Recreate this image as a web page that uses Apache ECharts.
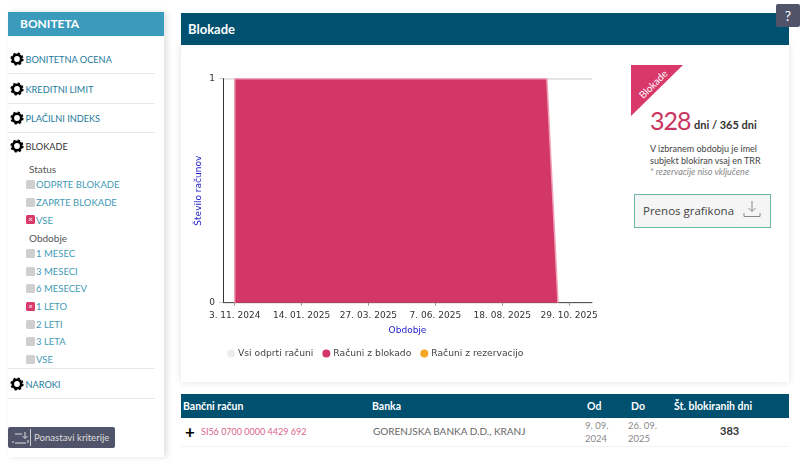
<!DOCTYPE html>
<html>
<head>
<meta charset="utf-8">
<script src="https://cdn.jsdelivr.net/npm/echarts@6/dist/echarts.min.js"></script>
<style>
html, body { margin: 0; padding: 0; width: 800px; height: 467px; overflow: hidden; background: #fff; font-family: Lato, sans-serif; }
.abs { position: absolute; white-space: nowrap; }
#side { position: absolute; left: 8px; top: 12px; width: 156px; height: 445px; box-shadow: 3px 0 6px rgba(0,0,0,.12); }
#sideHead { position: absolute; left: 8px; top: 12px; width: 156px; height: 24px; background: #3a9bbd; color: #fff; font-size: 12px; font-weight: 700; line-height: 24px; text-indent: 12px; }
.rule { position: absolute; left: 8px; width: 147px; height: 1px; background: #e8e8e8; }
.nav { position: absolute; left: 25.5px; font-size: 9.2px; line-height: 12px; white-space: nowrap; }
.sub { position: absolute; left: 29px; font-size: 10px; color: #555; line-height: 12px; }
.opt { position: absolute; left: 36px; font-size: 9.5px; color: #3f9ab5; line-height: 12px; white-space: nowrap; }
.box { position: absolute; left: 26px; width: 9px; height: 9px; border-radius: 1.5px; background: #cfcfcf; color: #fff; font-size: 8px; line-height: 9px; text-align: center; }
.box.on { background: #d8386a; }
#panel { position: absolute; left: 181px; top: 45px; width: 608px; height: 337px; background: #fff; box-shadow: 0 0 7px rgba(0,0,0,.13); }
#mainHead { position: absolute; left: 181px; top: 13px; width: 608px; height: 32px; background: #00506f; color: #fff; font-size: 13px; font-weight: 700; line-height: 32px; text-indent: 7px; }
#main { position: absolute; left: 181px; top: 45px; width: 440px; height: 337px; }
#ribbon { position: absolute; left: 631px; top: 65px; width: 0; height: 0; border-top: 51px solid #d8386a; border-right: 52px solid transparent; }
#tblHead { position: absolute; left: 181px; top: 394px; width: 608px; height: 24px; background: #00506f; }
.th { position: absolute; top: 394px; color: #fff; font-size: 10.5px; font-weight: 700; line-height: 24px; white-space: nowrap; }
</style>
</head>
<body>
<div id="side"></div>
<div id="sideHead">BONITETA</div>
<div id="sideBody"></div>

<div id="panel"></div>
<div id="mainHead">Blokade</div>
<div id="main"></div>

<div class="abs" style="left:776px;top:4px;width:24px;height:23px;background:#50546a;color:#fff;font-size:14px;line-height:23px;text-align:center;border-radius:2px">?</div>

<div id="ribbon"></div>
<div class="abs" style="left:630px;top:78px;width:46px;text-align:center;color:#fff;font-size:10px;transform:rotate(-45deg)">Blokade</div>
<div class="abs" style="left:650px;top:104px;font-size:25px;line-height:32px;letter-spacing:-1px;color:#c9365f">328</div>
<div class="abs" style="left:694px;top:117px;font-size:11px;line-height:15px;font-weight:700;color:#333">dni / 365 dni</div>
<div class="abs" style="left:650px;top:143px;font-size:9px;line-height:12px;color:#444">V izbranem obdobju je imel</div>
<div class="abs" style="left:650px;top:155px;font-size:9px;line-height:12px;color:#444">subjekt blokiran vsaj en TRR</div>
<div class="abs" style="left:650px;top:166px;font-size:9px;line-height:11px;color:#888;font-style:italic">* rezervacije niso vključene</div>
<div class="abs" style="left:634px;top:194px;width:135px;height:32px;border:1px solid #6bb8a8;background:#f5f5f6"></div>
<div class="abs" style="left:643px;top:203px;font-size:11.5px;line-height:16px;color:#444;font-family:'Open Sans',sans-serif">Prenos grafikona</div>
<svg class="abs" style="left:743px;top:200px" width="18" height="18" fill="none" stroke="#888" stroke-width="1"><path d="M9 1V11M5.5 8L9 11.5L12.5 8M1 13V16.5H17V13"/></svg>

<div id="tblHead"></div>
<div id="tbl"></div>

<div class="abs" style="left:8px;top:427px;width:107px;height:21px;background:#50546a;border-radius:2px"></div>
<svg class="abs" style="left:12px;top:431px" width="20" height="14" fill="none" stroke="#ddd" stroke-width="1"><path d="M3 3H10M13 1V7M10.5 5L13 7.5L15.5 5M3 12H14M1 10V12M16 9V12"/></svg>
<div class="abs" style="left:30px;top:429px;width:1px;height:17px;background:#ccc"></div>
<div class="abs" style="left:34px;top:427px;font-size:9.6px;line-height:21px;color:#ddd">Ponastavi kriterije</div>

<script>
// podatki
var dates = ['2024-11-03', '2024-11-03', '2025-10-05', '2025-10-17'];
var blockedValues = [0, 1, 1, 0];
var openValues = [];
var reservedValues = [];
var tickDates = ['2024-11-03', '2025-01-14', '2025-03-27', '2025-06-07', '2025-08-18', '2025-10-29'];
var tickLabels = ['3. 11. 2024', '14. 01. 2025', '27. 03. 2025', '7. 06. 2025', '18. 08. 2025', '29. 10. 2025'];
var seriesNames = ['Vsi odprti računi', 'Računi z blokado', 'Računi z rezervacijo'];

var navMain = [['BONITETNA OCENA', 59], ['KREDITNI LIMIT', 89], ['PLAČILNI INDEKS', 118], ['BLOKADE', 146], ['NAROKI', 384]];
var rules = [73, 103, 132, 368, 398];
var statusOpts = [['ODPRTE BLOKADE', 184, 0], ['ZAPRTE BLOKADE', 202, 0], ['VSE', 219.5, 1]];
var periodOpts = [['1 MESEC', 253, 0], ['3 MESECI', 271, 0], ['6 MESECEV', 288, 0], ['1 LETO', 306, 1], ['2 LETI', 324, 0], ['3 LETA', 341, 0], ['VSE', 359, 0]];
var tableHead = [['Bančni račun', 183], ['Banka', 372], ['Od', 587], ['Do', 631], ['Št. blokiranih dni', 674]];

// levi meni
var gear = function (y) {
	return '<svg class="abs" style="left:10px;top:' + (y - 7) + 'px" width="14" height="14">' +
		'<circle cx="7" cy="7" r="4.2" fill="none" stroke="#000" stroke-width="2.6"/>' +
		'<circle cx="7" cy="7" r="5.8" fill="none" stroke="#000" stroke-width="1.6" stroke-dasharray="2.3 2.25"/></svg>';
};
var html = '';
navMain.forEach(function (n) {
	html += gear(n[1]);
	html += '<div class="nav" style="top:' + (n[1] - 5) + 'px;color:' + (n[0] === 'BLOKADE' ? '#333' : '#1c7a9c') + '">' + n[0] + '</div>';
});
rules.forEach(function (y) {
	html += '<div class="rule" style="top:' + y + 'px"></div>';
});
html += '<div class="sub" style="top:163px">Status</div><div class="sub" style="top:232px">Obdobje</div>';
statusOpts.concat(periodOpts).forEach(function (o) {
	html += '<div class="box' + (o[2] ? ' on' : '') + '" style="top:' + (o[1] - 4.5) + 'px">' + (o[2] ? '×' : '') + '</div>';
	html += '<div class="opt" style="top:' + (o[1] - 5) + 'px">' + o[0] + '</div>';
});
document.getElementById('sideBody').innerHTML = html;

// tabela
var t = '';
tableHead.forEach(function (h) {
	t += '<div class="th" style="left:' + h[1] + 'px">' + h[0] + '</div>';
});
t += '<div class="abs" style="left:185px;top:423px;font-size:17px;line-height:17px;font-weight:700;color:#000">+</div>';
t += '<div class="abs" style="left:201px;top:425px;font-size:9px;line-height:13px;color:#d8668a">SI56 0700 0000 4429 692</div>';
t += '<div class="abs" style="left:373px;top:425px;font-size:10px;line-height:13px;color:#666">GORENJSKA BANKA D.D., KRANJ</div>';
t += '<div class="abs" style="left:585px;top:419px;font-size:9.5px;line-height:13px;color:#888">9. 09.<br>2024</div>';
t += '<div class="abs" style="left:628px;top:419px;font-size:9.5px;line-height:13px;color:#888">26. 09.<br>2025</div>';
t += '<div class="abs" style="left:720px;top:424px;font-size:11px;line-height:14px;font-weight:700;color:#333">383</div>';
t += '<div class="abs" style="left:181px;top:446px;width:608px;height:1px;background:#f2f2f2"></div>';
document.getElementById('tbl').innerHTML = t;

// graf
var toTime = function (s) {
	return new Date(s + 'T00:00:00Z').getTime();
};
var chart = echarts.init(document.getElementById('main'));
var font = 'DejaVu Sans';
var tickTimes = tickDates.map(toTime);

var option = {
	animation: false,
	legend: {
		left: 41,
		top: 299,
		icon: 'circle',
		itemWidth: 8,
		itemHeight: 8,
		itemGap: 9,
		data: seriesNames,
		textStyle: { fontFamily: font, fontSize: 9.2, color: '#444', padding: [0, 0, 0, -2] }
	},
	grid: { left: 42, right: 29, top: 33.7, bottom: 79.3 },
	xAxis: {
		type: 'value',
		min: toTime('2024-10-21') + 0.44 * 864e5,
		max: toTime('2025-11-22') + 0.6 * 864e5,
		name: 'Obdobje',
		nameLocation: 'middle',
		nameGap: 23,
		nameTextStyle: { fontFamily: font, fontSize: 9, color: '#2222cc' },
		axisLine: { lineStyle: { color: '#555', width: 1 } },
		axisTick: { customValues: tickTimes, length: 3, lineStyle: { color: '#999' } },
		axisLabel: {
			customValues: tickTimes,
			fontFamily: font,
			fontSize: 9,
			color: '#333',
			margin: 8,
			hideOverlap: false,
			formatter: function (value) {
				return tickLabels[tickTimes.indexOf(value)];
			}
		},
		splitLine: { show: false }
	},
	yAxis: {
		type: 'value',
		min: 0,
		max: 1,
		interval: 1,
		name: 'Število računov',
		nameLocation: 'middle',
		nameGap: 20,
		nameMoveOverlap: false,
		nameTextStyle: { fontFamily: font, fontSize: 9, color: '#2222cc' },
		axisLine: { show: true, lineStyle: { color: '#333', width: 1 } },
		axisTick: { show: true, length: 4, lineStyle: { color: '#ccc' } },
		axisLabel: { fontFamily: font, fontSize: 9, color: '#333', margin: 8 },
		splitLine: { show: true, lineStyle: { color: '#e6e6e6', width: 2 } }
	},
	series: [{
		name: seriesNames[0],
		type: 'line',
		showSymbol: false,
		itemStyle: { color: '#ececec' },
		data: openValues
	}, {
		name: seriesNames[1],
		type: 'line',
		showSymbol: false,
		z: 5,
		lineStyle: { color: '#f0a0b8', width: 1.5 },
		itemStyle: { color: '#d33767' },
		areaStyle: { color: '#d33767', opacity: 1 },
		data: dates.map(function (d, i) { return [toTime(d), blockedValues[i]]; })
	}, {
		name: seriesNames[2],
		type: 'line',
		showSymbol: false,
		itemStyle: { color: '#f5a623' },
		data: reservedValues
	}]
};
chart.setOption(option);
</script>
</body>
</html>
